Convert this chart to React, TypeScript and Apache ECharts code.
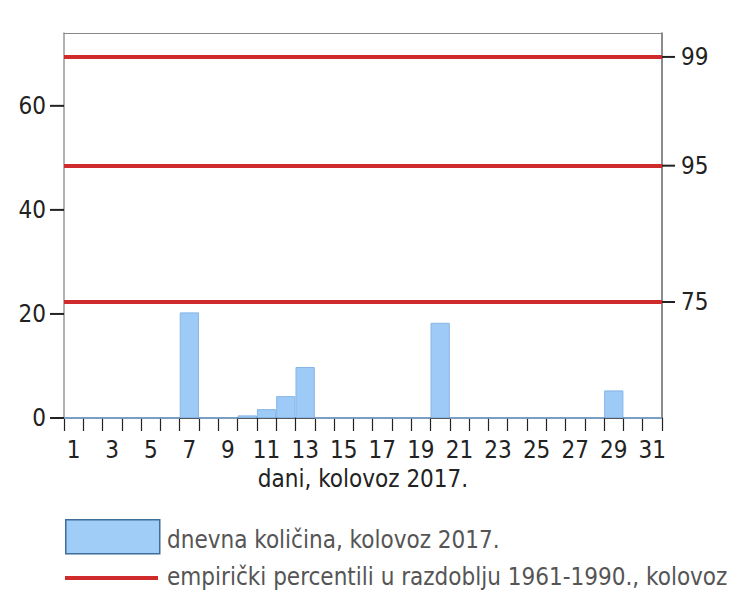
import React, { useEffect, useRef } from "react";
import * as echarts from "echarts";

const days: string[] = Array.from({ length: 31 }, (_, i) => String(i + 1));
const dailyValues: number[] = [
  0, 0, 0, 0, 0, 0, 20.3, 0, 0, 0.5, 1.7, 4.2, 9.8, 0, 0, 0, 0, 0, 0, 18.3,
  0, 0, 0, 0, 0, 0, 0, 0, 5.3, 0, 0,
];
const percentileValues: number[] = [22.3, 48.5, 69.4];
const percentileLabels: string[] = ["75", "95", "99"];
const leftTickValues: number[] = [0, 20, 40, 60];
const xAxisName = "dani, kolovoz 2017.";
const legendBar = "dnevna količina, kolovoz 2017.";
const legendLine = "empirički percentili u razdoblju 1961-1990., kolovoz";

const FONT = "'DejaVu Sans Condensed', 'DejaVu Sans', sans-serif";
const RED = "#cf2a2c";
const FS = 24;

const richTicks = (tickLen: number, gap: number) => ({
  v: { fontFamily: FONT, fontSize: FS, color: "#222", lineHeight: 28, verticalAlign: "middle" },
  g: { width: gap, height: 2, lineHeight: 28, verticalAlign: "middle" },
  t: { width: tickLen, height: 2, backgroundColor: "#222", lineHeight: 28, verticalAlign: "middle" },
});

export default function App() {
  const ref = useRef<HTMLDivElement>(null);
  useEffect(() => {
    if (!ref.current) return;
    const chart = echarts.init(ref.current, undefined, { renderer: "svg" });
    const labelMap: Record<string, string> = {};
    percentileValues.forEach((v, i) => (labelMap[String(v)] = percentileLabels[i]));
    chart.setOption({
      animation: false,
      textStyle: { fontFamily: FONT },
      grid: { left: 64, right: 88, top: 33, bottom: 174 },
      xAxis: [
        {
          type: "category",
          data: days,
          boundaryGap: true,
          name: xAxisName,
          nameLocation: "middle",
          nameGap: 39,
          nameTextStyle: { fontFamily: FONT, fontSize: FS, color: "#222" },
          axisLine: { show: true, lineStyle: { color: "#222", width: 1.5 } },
          axisTick: { show: true, interval: 0, length: 13, lineStyle: { color: "#222", width: 1.2 } },
          axisLabel: {
            show: true,
            interval: 1,
            margin: 20,
            fontFamily: FONT,
            fontSize: FS,
            color: "#222",
          },
          splitLine: { show: false },
        },
        {
          type: "category",
          data: days,
          position: "top",
          axisLine: { show: true, onZero: false, lineStyle: { color: "#888", width: 1 } },
          axisTick: { show: false },
          axisLabel: { show: false },
          splitLine: { show: false },
        },
      ],
      yAxis: [
        {
          type: "value",
          min: 0,
          max: 74,
          interval: 20,
          position: "left",
          axisLine: { show: true, lineStyle: { color: "#999", width: 1.5 } },
          axisTick: { show: false },
          axisLabel: {
            show: true,
            customValues: leftTickValues,
            margin: 0,
            formatter: (v: number) => `{v|${v}}{g|}{t|}`,
            rich: richTicks(14, 4),
          },
          splitLine: { show: false },
        },
        {
          type: "value",
          min: 0,
          max: 74,
          position: "right",
          axisLine: { show: true, lineStyle: { color: "#666", width: 1.5 } },
          axisTick: { show: false },
          axisLabel: {
            show: true,
            customValues: percentileValues,
            margin: 0,
            formatter: (v: number) => `{t|}{g|}{v|${labelMap[String(v)] ?? ""}}`,
            rich: richTicks(13, 6),
          },
          splitLine: { show: false },
        },
      ],
      series: [
        {
          type: "bar",
          data: dailyValues,
          barCategoryGap: "0%",
          itemStyle: { color: "#9dcaf6", borderColor: "#86b6e6", borderWidth: 1 },
          markLine: {
            silent: true,
            symbol: "none",
            label: { show: false },
            lineStyle: { color: RED, width: 4, type: "solid" },
            data: percentileValues.map((v) => ({ yAxis: v })),
          },
        },
      ],
      graphic: [
        {
          type: "rect",
          left: 65,
          top: 519,
          shape: { width: 94, height: 34 },
          style: { fill: "#a0cdf8", stroke: "#3d6d98", lineWidth: 1.5 },
        },
        {
          type: "text",
          left: 167,
          top: 528,
          style: { text: legendBar, fontFamily: FONT, fontSize: FS, fill: "#555" },
        },
        {
          type: "line",
          shape: { x1: 65, y1: 578, x2: 158, y2: 578 },
          style: { stroke: RED, lineWidth: 4 },
        },
        {
          type: "text",
          left: 167,
          top: 565,
          style: { text: legendLine, fontFamily: FONT, fontSize: FS, fill: "#555" },
        },
      ],
    });
    return () => chart.dispose();
  }, []);
  return <div ref={ref} style={{ width: 750, height: 592, position: "absolute", left: 0, top: 0 }} />;
}
